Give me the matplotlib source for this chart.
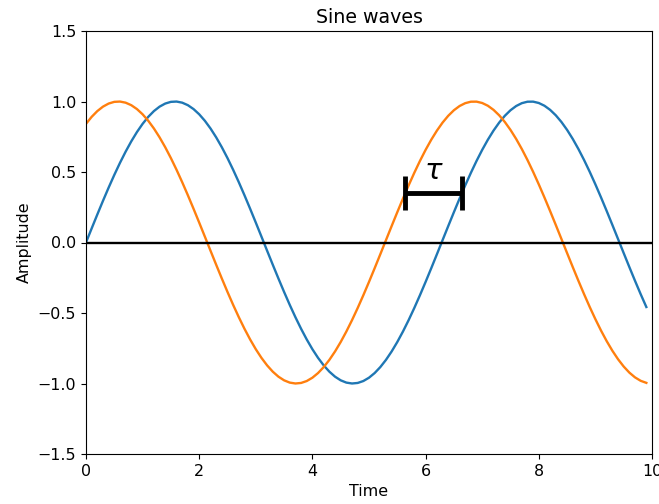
import numpy as np
import matplotlib.pyplot as plt

# time axis and wave parameters
t_start = 0.0
t_stop = 10.0
t_step = 0.1
amplitude = 1.0
phase_shift = 1.0

# delay marker (tau) between the two waves
tau_start = 2 * np.pi + 0.357 - phase_shift
tau_length = phase_shift
tau_level = 0.35

t = np.arange(t_start, t_stop, t_step)
wave_a = amplitude * np.sin(t)
wave_b = amplitude * np.sin(t + phase_shift)

plt.rcParams['font.size'] = 11.4

fig = plt.figure(figsize=(6.59, 5.04), dpi=100)
fig.subplots_adjust(left=86/659, right=652/659, top=1-31/504, bottom=1-454/504)
ax = fig.add_subplot(111)

ax.plot(t, wave_a, lw=1.7)
ax.plot(t, wave_b, lw=1.7)
ax.axhline(0, color='k', lw=1.7)

ax.errorbar(tau_start + tau_length / 2, tau_level, xerr=tau_length / 2,
            color='k', elinewidth=3.5, capsize=12, capthick=3.5)
ax.text(tau_start + tau_length / 2, tau_level + 0.06, r'$\tau$',
        ha='center', va='bottom', fontsize=21)

ax.set_xlim(0, 10)
ax.set_ylim(-1.5, 1.5)
ax.set_title('Sine waves')
ax.set_xlabel('Time')
ax.set_ylabel('Amplitude')

fig.savefig('out.png', dpi=100)
